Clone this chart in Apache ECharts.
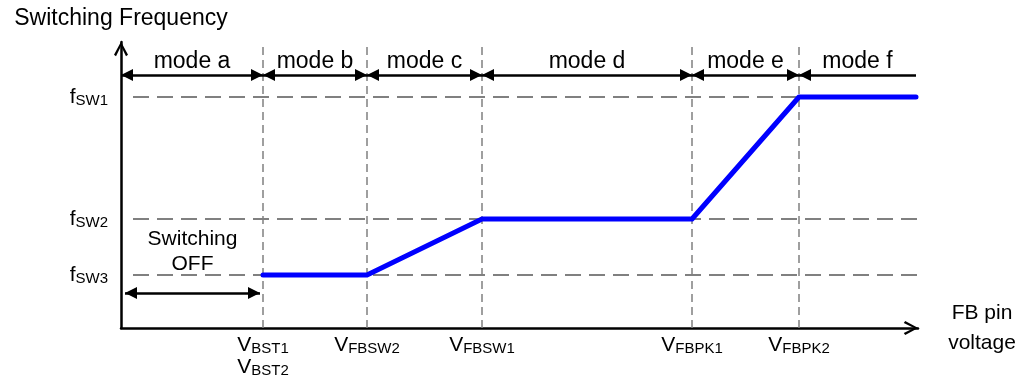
<!DOCTYPE html>
<html>
<head>
<meta charset="utf-8">
<script src="https://cdn.jsdelivr.net/npm/echarts@6/dist/echarts.min.js"></script>
<style>
  html, body { margin: 0; padding: 0; background: #fff; }
  #chart { width: 1029px; height: 380px; }
</style>
</head>
<body>
<div id="chart"></div>
<script>
// voltage points on the FB pin axis (V_BST, V_FBSW2, V_FBSW1, V_FBPK1, V_FBPK2)
var xTickValues = [142, 246, 361, 571, 678];
var xTickSubs = [['BST1', 'BST2'], ['FBSW2'], ['FBSW1'], ['FBPK1'], ['FBPK2']];
// frequency levels (f_SW1, f_SW2, f_SW3)
var yTickValues = [231, 109, 53];
var yTickSubs = ['SW1', 'SW2', 'SW3'];
// switching frequency curve
var freqX = [142, 246, 361, 571, 678, 795];
var freqY = [53, 53, 109, 109, 231, 231];
// operating modes
var modeNames = ['mode a', 'mode b', 'mode c', 'mode d', 'mode e', 'mode f'];
var modeBounds = [0, 142, 246, 361, 571, 678, 795];
var modeArrowY = 253;
var offArrowX = [4, 139];
var offArrowY = 35;

var xMax = 797, yMax = 286;
var hGuideFrom = 12, hGuideTo = 796;
var font = "'Liberation Sans', Arial, sans-serif";

var richSub = {
  m: { fontSize: 21, lineHeight: 22, color: '#000', fontFamily: font },
  s: { fontSize: 15, lineHeight: 12, verticalAlign: 'bottom', color: '#000', fontFamily: font }
};
var chevron = 'path://M7,0 L14,13 L12,14.4 L7,4.2 L2,14.4 L0,13 Z';

var myChart = echarts.init(document.getElementById('chart'));

// dashed guide lines
var guides = [];
yTickValues.forEach(function (y) {
  guides.push([{ coord: [hGuideFrom, y], lineStyle: { type: [16, 8], width: 2 } }, { coord: [hGuideTo, y] }]);
});
xTickValues.forEach(function (x) {
  guides.push([{ coord: [x, 0], lineStyle: { type: [8, 5], width: 1.5 } }, { coord: [x, yMax] }]);
});

// mode arrows
var modeLines = [];
for (var i = 0; i < modeNames.length; i++) {
  var last = i === modeNames.length - 1;
  modeLines.push([
    { coord: [modeBounds[i], modeArrowY], name: modeNames[i] },
    { coord: [modeBounds[i + 1], modeArrowY], symbol: last ? 'none' : 'triangle' }
  ]);
}
modeLines.push([
  { coord: [offArrowX[0], offArrowY], name: 'Switching\nOFF',
    label: { distance: 16, lineHeight: 25, fontSize: 21 } },
  { coord: [offArrowX[1], offArrowY] }
]);

myChart.setOption({
  animation: false,
  textStyle: { fontFamily: font },
  grid: { left: 121, right: 111, top: 42, bottom: 52, containLabel: false, outerBoundsMode: 'none' },
  xAxis: {
    type: 'value', min: 0, max: xMax,
    name: 'FB pin\nvoltage', nameLocation: 'end', nameGap: 64, nameMoveOverlap: false,
    nameTextStyle: { fontSize: 21, color: '#000', align: 'center', verticalAlign: 'middle',
      lineHeight: 30, padding: [4, 0, 0, 0], fontFamily: font },
    axisLine: { show: true, lineStyle: { color: '#000', width: 2.5 },
      symbol: ['none', chevron], symbolSize: [14, 15], symbolOffset: [0, -7] },
    axisTick: { show: false },
    splitLine: { show: false },
    axisLabel: {
      customValues: xTickValues, margin: 6, color: '#000', hideOverlap: false,
      formatter: function (v) {
        var k = xTickValues.indexOf(v);
        if (k < 0) return '';
        return xTickSubs[k].map(function (s) { return '{m|V}{s|' + s + '}'; }).join('\n');
      },
      rich: richSub
    }
  },
  yAxis: {
    type: 'value', min: 0, max: yMax,
    name: 'Switching Frequency', nameLocation: 'end', nameGap: 12, nameMoveOverlap: false,
    nameTextStyle: { fontSize: 23, color: '#000', fontFamily: font },
    axisLine: { show: true, lineStyle: { color: '#000', width: 2.5 },
      symbol: ['none', chevron], symbolSize: [14, 15], symbolOffset: [0, -7] },
    axisTick: { show: false },
    splitLine: { show: false },
    axisLabel: {
      customValues: yTickValues, margin: 13, color: '#000', hideOverlap: false,
      formatter: function (v) {
        var k = yTickValues.indexOf(v);
        if (k < 0) return '';
        return '{m|f}{s|' + yTickSubs[k] + '}';
      },
      rich: richSub
    }
  },
  series: [
    {
      name: 'guides', type: 'line', z: 1, data: [], showSymbol: false,
      markLine: {
        silent: true, z: 1, symbol: ['none', 'none'],
        lineStyle: { color: '#808080' },
        label: { show: false },
        data: guides
      }
    },
    {
      name: 'modes', type: 'line', z: 2, data: [], showSymbol: false,
      markLine: {
        silent: true, z: 2,
        symbol: ['triangle', 'triangle'], symbolSize: [12, 12],
        symbolOffset: [[0, 6], [0, 6]],
        lineStyle: { color: '#000', width: 2.5, type: 'solid' },
        label: { show: true, position: 'middle', distance: 2, formatter: '{b}',
          fontSize: 23, color: '#000', fontFamily: font },
        data: modeLines
      }
    },
    {
      name: 'frequency', type: 'line', z: 3, showSymbol: false,
      lineStyle: { color: '#0000ff', width: 5, cap: 'round', join: 'round' },
      data: freqX.map(function (x, k) { return [x, freqY[k]]; })
    }
  ]
});
</script>
</body>
</html>
